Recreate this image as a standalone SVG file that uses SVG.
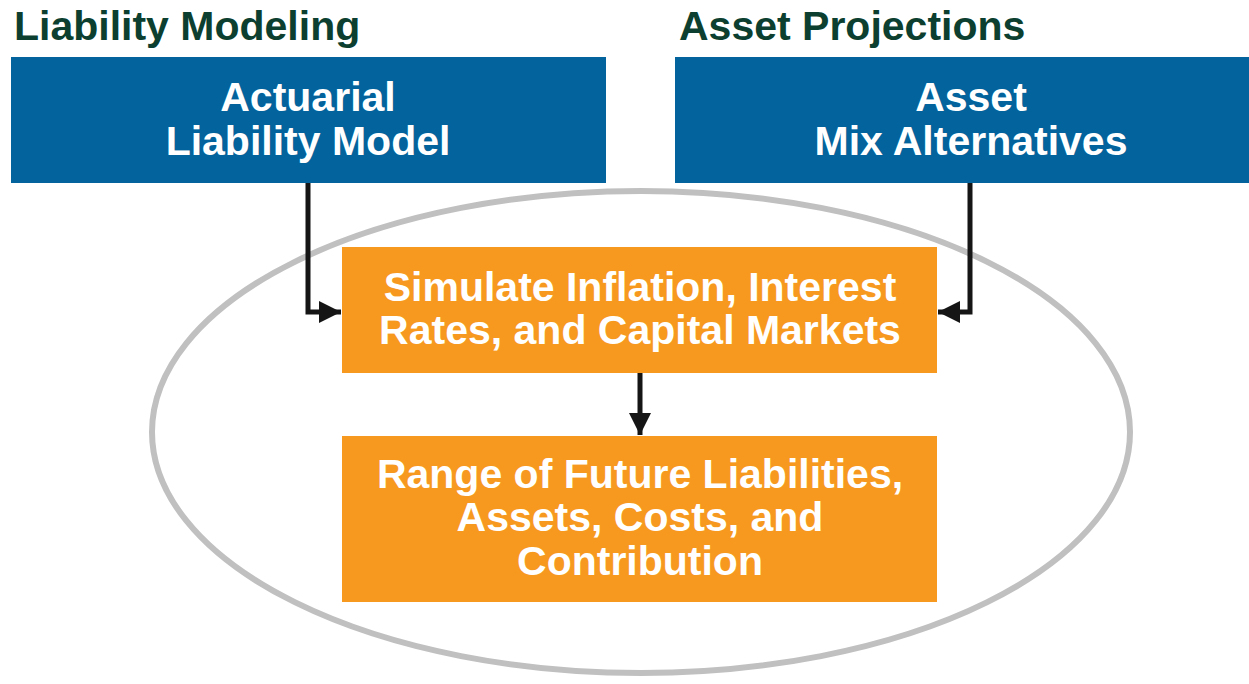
<svg xmlns="http://www.w3.org/2000/svg" width="1249" height="684" viewBox="0 0 1249 684">
<defs>
<style>
.title{font-family:"Liberation Sans",Arial,sans-serif;font-weight:bold;font-size:41px;fill:#0c3f2f}
.lbl{font-family:"Liberation Sans",Arial,sans-serif;font-weight:bold;font-size:41px;fill:#ffffff;text-anchor:middle}
.blue{fill:#03639c}
.orange{fill:#f7991f}
.conn{fill:none;stroke:#151515;stroke-width:5}
</style>
<marker id="ah" viewBox="0 0 10 10" refX="10" refY="5" markerWidth="4.4" markerHeight="4.4" markerUnits="strokeWidth" orient="auto">
<path d="M0,0 L10,5 L0,10 z" fill="#151515"/>
</marker>
</defs>
<rect width="1249" height="684" fill="#ffffff"/>
<ellipse cx="641" cy="432" rx="489" ry="241" fill="none" stroke="#c0c0c0" stroke-width="6"/>
<g id="title-liability"><text class="title" x="14" y="40">Liability Modeling</text></g>
<g id="title-asset"><text class="title" x="679" y="40">Asset Projections</text></g>
<g id="actuarial">
<rect class="blue" x="11" y="57" width="595" height="126"/>
<text class="lbl" x="308" y="111">Actuarial</text>
<text class="lbl" x="308" y="155">Liability Model</text>
</g>
<g id="assetmix">
<rect class="blue" x="675" y="57" width="574" height="126"/>
<text class="lbl" x="971" y="111">Asset</text>
<text class="lbl" x="971" y="155">Mix Alternatives</text>
</g>
<g id="simulate">
<rect class="orange" x="342" y="247" width="595" height="126"/>
<text class="lbl" x="640" y="301">Simulate Inflation, Interest</text>
<text class="lbl" x="640" y="344">Rates, and Capital Markets</text>
</g>
<g id="range">
<rect class="orange" x="342" y="436" width="595" height="166"/>
<text class="lbl" x="640" y="488">Range of Future Liabilities,</text>
<text class="lbl" x="640" y="531">Assets, Costs, and</text>
<text class="lbl" x="640" y="575">Contribution</text>
</g>
<g id="connectors">
<path class="conn" d="M308,183 L308,312 L341,312" marker-end="url(#ah)"/>
<path class="conn" d="M970,183 L970,312 L938,312" marker-end="url(#ah)"/>
<path class="conn" d="M640,373 L640,435" marker-end="url(#ah)"/>
</g>
</svg>
